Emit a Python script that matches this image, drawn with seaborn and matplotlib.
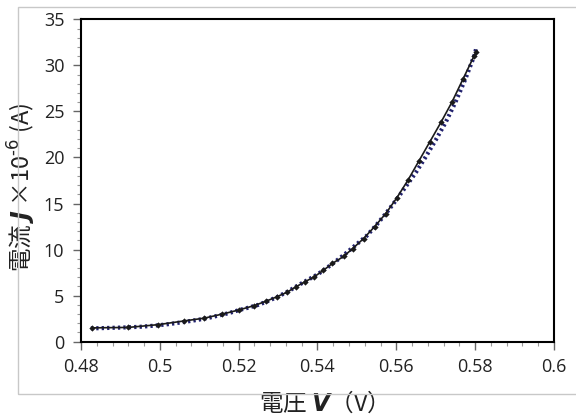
import matplotlib
matplotlib.use("Agg")
import matplotlib.pyplot as plt
import seaborn as sns
from matplotlib.ticker import MultipleLocator, FuncFormatter
from matplotlib.patches import Rectangle

# measured points (black)
meas_v = [0.4828, 0.4920, 0.4996, 0.5061, 0.5112, 0.5159, 0.5201, 0.5238, 0.5270,
          0.5298, 0.5322, 0.5345, 0.5368, 0.5392, 0.5415, 0.5438, 0.5466, 0.5489,
          0.5517, 0.5545, 0.5573, 0.5601, 0.5629, 0.5657, 0.5685, 0.5713, 0.5741,
          0.5769, 0.5797, 0.5803]
meas_j = [1.50, 1.55, 1.85, 2.25, 2.55, 3.00, 3.45, 3.90, 4.40,
          4.90, 5.35, 5.95, 6.50, 7.05, 7.75, 8.50, 9.25, 10.1,
          11.2, 12.5, 13.9, 15.6, 17.5, 19.6, 21.7, 23.8, 26.0,
          28.5, 31.0, 31.5]

# fitted curve (blue dotted)
fit_v = [0.4825, 0.485, 0.4875, 0.490, 0.4925, 0.495, 0.4975, 0.500, 0.5025, 0.505,
         0.5075, 0.510, 0.5125, 0.515, 0.5175, 0.520, 0.5225, 0.525, 0.5275, 0.530,
         0.5325, 0.535, 0.5375, 0.540, 0.5425, 0.545, 0.5475, 0.550, 0.5525, 0.555,
         0.5575, 0.560, 0.5625, 0.565, 0.5675, 0.570, 0.5725, 0.575, 0.5775, 0.580,
         0.5803]
fit_j = [1.45, 1.47, 1.50, 1.53, 1.57, 1.62, 1.70, 1.80, 1.92, 2.07,
         2.23, 2.40, 2.60, 2.85, 3.10, 3.42, 3.70, 4.00, 4.42, 4.90,
         5.45, 6.10, 6.70, 7.30, 8.05, 8.85, 9.70, 10.6, 11.5, 12.7,
         14.0, 15.4, 16.9, 18.4, 20.1, 21.9, 23.8, 26.0, 28.5, 31.3,
         32.0]

sns.set_style("white")
plt.rcParams['font.family'] = ['Open Sans', 'Noto Sans CJK JP', 'DejaVu Sans']
plt.rcParams['mathtext.fontset'] = 'dejavusans'

fig = plt.figure(figsize=(5.76, 4.17), dpi=100)
ax = fig.add_axes([0.1406, 0.1806, 0.8212, 0.7731])

# light grey outer frame
fig.add_artist(Rectangle((0.032, 0.055), 1.0, 0.929, transform=fig.transFigure,
                         fill=False, edgecolor='#c8c8c8', linewidth=1.0))

sns.lineplot(x=fit_v, y=fit_j, ax=ax, color='#22226e', linewidth=3.0,
             linestyle=(0, (0.55, 0.75)), sort=False)
sns.lineplot(x=meas_v, y=meas_j, ax=ax, color='#1a1a1a', linewidth=1.2,
             marker='D', markersize=3.2, markeredgewidth=0, sort=False)

ax.set_xlim(0.48, 0.6)
ax.set_ylim(0, 35)
ax.xaxis.set_major_locator(MultipleLocator(0.02))
ax.xaxis.set_minor_locator(MultipleLocator(0.004))
ax.yaxis.set_major_locator(MultipleLocator(5))
ax.yaxis.set_minor_locator(MultipleLocator(1))
ax.xaxis.set_major_formatter(FuncFormatter(lambda v, p: f"{v:.2f}".rstrip('0')))

for s in ax.spines.values():
    s.set_color('black')
    s.set_linewidth(1.5)

ax.tick_params(axis='both', which='major', direction='out', length=5.5, width=1,
               color='#666666', labelsize=13, pad=6.5, bottom=True, left=True)
ax.tick_params(axis='both', which='minor', direction='out', length=3, width=0.8,
               color='#999999', bottom=True, left=True)
for lab in ax.get_xticklabels() + ax.get_yticklabels():
    lab.set_color('#222222')

ax.set_xlabel('電圧 $\\mathbfit{V}$（V）', fontsize=17, color='#222222', va='center',
              fontfamily='Noto Sans CJK JP')
ax.xaxis.set_label_coords(0.5, -0.19)
ax.set_ylabel('電流 $\\mathbfit{J}$ ×10$^{\\text{-6}}$ (A)', fontsize=17, color='#222222',
              va='center', fontfamily='Noto Sans CJK JP')
ax.yaxis.set_label_coords(-0.125, 0.48)

fig.savefig('out.png', dpi=100)
